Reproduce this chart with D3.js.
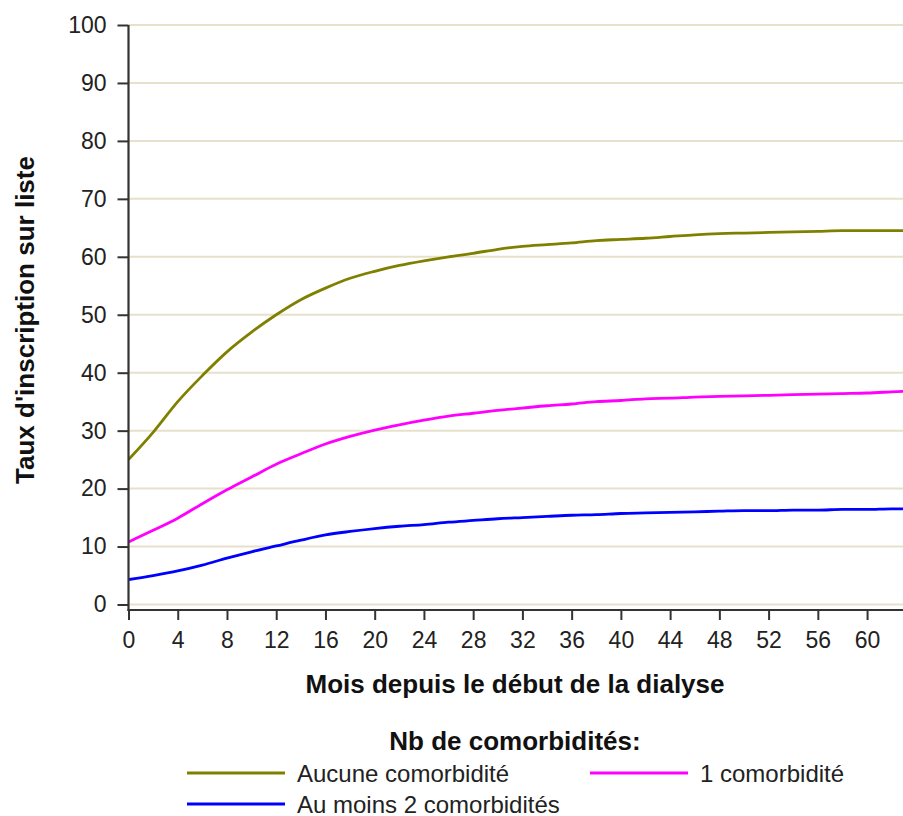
<!DOCTYPE html>
<html>
<head>
<meta charset="utf-8">
<script src="https://cdn.jsdelivr.net/npm/d3@7"></script>
<style>
  html, body { margin: 0; padding: 0; background: #ffffff; }
  svg { display: block; font-family: "Liberation Sans", Arial, sans-serif; }
</style>
</head>
<body>
<svg id="chart" width="903" height="816"></svg>
<script>
// Months since dialysis start (x positions of the sampled curve points)
const months = [0, 2, 4, 6, 8, 10, 12, 14, 16, 18, 20, 22, 24, 26, 28, 30, 32, 34, 36, 38, 40,
                42, 44, 46, 48, 50, 52, 54, 56, 58, 60, 62, 63];

// Cumulative waitlisting rate (%) by number of comorbidities
const aucune = [25.0, 29.7, 35.0, 39.5, 43.6, 47.0, 50.0, 52.6, 54.6, 56.3, 57.5, 58.5, 59.3, 60.0,
                60.6, 61.3, 61.8, 62.1, 62.4, 62.8, 63.0, 63.2, 63.5, 63.8, 64.0, 64.1, 64.2, 64.3,
                64.4, 64.5, 64.5, 64.5, 64.5];
const une = [10.8, 12.8, 14.9, 17.4, 19.8, 22.0, 24.2, 26.0, 27.7, 29.0, 30.1, 31.0, 31.8, 32.5,
             33.0, 33.5, 33.9, 34.3, 34.6, 35.0, 35.2, 35.5, 35.6, 35.8, 35.9, 36.0, 36.1, 36.2,
             36.3, 36.4, 36.5, 36.7, 36.8];
const deuxPlus = [4.3, 5.0, 5.8, 6.8, 8.0, 9.1, 10.1, 11.1, 12.0, 12.6, 13.1, 13.5, 13.8, 14.2,
                  14.5, 14.8, 15.0, 15.2, 15.4, 15.5, 15.7, 15.8, 15.9, 16.0, 16.1, 16.2, 16.2,
                  16.3, 16.3, 16.4, 16.4, 16.5, 16.5];

const seriesNames = ["Aucune comorbidité", "1 comorbidité", "Au moins 2 comorbidités"];
const seriesColors = ["#808000", "#ff00ff", "#0000ff"];
const seriesValues = [aucune, une, deuxPlus];

const xTicks = d3.range(0, 61, 4);
const yTicks = d3.range(0, 101, 10);

const xTitle = "Mois depuis le début de la dialyse";
const yTitle = "Taux d'inscription sur liste";
const legendTitle = "Nb de comorbidités:";

const svg = d3.select("#chart");
const W = 903;
const FONT = "'Liberation Sans', Arial, sans-serif";

const x = d3.scaleLinear().domain([0, 63]).range([128.5, 904]);
const y = d3.scaleLinear().domain([0, 100]).range([604.5, 25]);
const axisY = 610;

// Horizontal grid
svg.append("g")
  .selectAll("line")
  .data(yTicks)
  .join("line")
  .attr("x1", 129).attr("x2", W)
  .attr("y1", d => y(d)).attr("y2", d => y(d))
  .attr("stroke", "#e7e0ca")
  .attr("stroke-width", 2);

// Curves
svg.append("clipPath").attr("id", "plotclip")
  .append("rect").attr("x", 129).attr("y", 0).attr("width", W - 129).attr("height", axisY);

const line = d3.line()
  .x(d => x(d[0]))
  .y(d => y(d[1]))
  .curve(d3.curveMonotoneX);

svg.append("g").attr("clip-path", "url(#plotclip)")
  .selectAll("path")
  .data(seriesValues.map((vals, i) => ({ pts: months.map((m, j) => [m, vals[j]]), color: seriesColors[i] })))
  .join("path")
  .attr("d", d => line(d.pts))
  .attr("fill", "none")
  .attr("stroke", d => d.color)
  .attr("stroke-width", 2.8)
  .attr("stroke-linejoin", "round");

// Y axis
const yAxis = d3.axisLeft(y).tickValues(yTicks).tickSize(11).tickPadding(11);
const gy = svg.append("g").attr("transform", "translate(128.5,0)").call(yAxis);
gy.select(".domain").remove();
gy.selectAll(".tick line").attr("stroke", "#333").attr("stroke-width", 2);
gy.selectAll(".tick text").attr("fill", "#222").style("font-size", "23px").style("font-family", FONT);
gy.append("line").attr("x1", 0).attr("x2", 0).attr("y1", y(100)).attr("y2", axisY + 1)
  .attr("stroke", "#333").attr("stroke-width", 2.2);

// X axis
const xAxis = d3.axisBottom(x).tickValues(xTicks).tickSize(10).tickPadding(12);
const gx = svg.append("g").attr("transform", `translate(0,${axisY})`).call(xAxis);
gx.select(".domain").remove();
gx.selectAll(".tick line").attr("stroke", "#333").attr("stroke-width", 2);
gx.selectAll(".tick text").attr("fill", "#222").style("font-size", "23px").style("font-family", FONT);
gx.append("line").attr("x1", 127.5).attr("x2", W).attr("y1", 0).attr("y2", 0)
  .attr("stroke", "#333").attr("stroke-width", 2.2);

// Axis titles
svg.append("text")
  .attr("x", 515).attr("y", 693)
  .attr("text-anchor", "middle")
  .style("font-size", "26px").style("font-weight", "bold").attr("fill", "#111")
  .text(xTitle);

svg.append("text")
  .attr("transform", "translate(34,320) rotate(-90)")
  .attr("text-anchor", "middle")
  .style("font-size", "26px").style("font-weight", "bold").attr("fill", "#111")
  .text(yTitle);

// Legend
svg.append("text")
  .attr("x", 515).attr("y", 750)
  .attr("text-anchor", "middle")
  .style("font-size", "26px").style("font-weight", "bold").attr("fill", "#111")
  .text(legendTitle);

const legendPos = [[187, 773], [590, 773], [187, 804]];
const lg = svg.append("g").selectAll("g")
  .data(seriesNames.map((n, i) => ({ name: n, color: seriesColors[i], pos: legendPos[i] })))
  .join("g")
  .attr("transform", d => `translate(${d.pos[0]},${d.pos[1]})`);
lg.append("line").attr("x1", 0).attr("x2", 98).attr("y1", 0).attr("y2", 0)
  .attr("stroke", d => d.color).attr("stroke-width", 3);
lg.append("text").attr("x", 110).attr("y", 8.5)
  .style("font-size", "24px").attr("fill", "#222")
  .text(d => d.name);
</script>
</body>
</html>
